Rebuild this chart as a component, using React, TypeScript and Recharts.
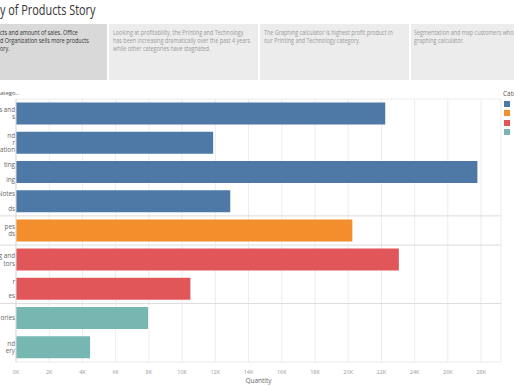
import React from "react";
import {
  Bar,
  BarChart,
  CartesianGrid,
  Cell,
  XAxis,
  YAxis,
} from "recharts";

const W = 514;
const H = 386;
const TOP = 99;
const RIGHT = 13;
const X_AXIS_H = 24;
const Y_AXIS_W = 16;

// row labels as visible (the left of the pane is cut off)
const subCategories = [
  "s and\ns",
  "nd\nr\nzation",
  "ting\n\ning",
  "Notes\n\nds",
  "pes\nds",
  "ng and\ntors",
  "r\n\nes",
  "ories",
  "nd\nery",
];
const quantities = [22230, 11870, 27780, 12900, 20250, 23050, 10500, 7950, 4460];
const groupOf = [0, 0, 0, 0, 1, 2, 2, 3, 3];
const groupColors = ["#4e79a7", "#f28e2b", "#e15759", "#76b7b2"];
const xTicks = [0, 2000, 4000, 6000, 8000, 10000, 12000, 14000, 16000, 18000, 20000, 22000, 24000, 26000, 28000];

const title = "y of Products Story";
const storyPoints = [
  ["cts and amount of sales. Office", "d Organization sells more products", "ory."],
  [
    "Looking at profitability, the Printing and Technology",
    "has been increasing dramatically over the past 4 years",
    "while other categories have stagnated.",
  ],
  ["The Graphing calculator is highest profit product in", "our Printing and Technology category."],
  ["Segmentation and map customers who", "graphing calculator."],
];

const rows = subCategories.map((name, i) => ({
  name,
  quantity: quantities[i],
  group: groupOf[i],
}));

const plotH = H - TOP - X_AXIS_H;
const band = plotH / rows.length;
const plotRight = W - RIGHT;
const font = "'Open Sans', 'DejaVu Sans', sans-serif";

function CategoryTick(props: any) {
  const { y, payload } = props;
  const i = subCategories.indexOf(payload.value);
  const lines = String(payload.value).split("\n");
  const lh = 7.3;
  const y0 = y - ((lines.length - 1) * lh) / 2;
  const groupStart = i > 0 && groupOf[i] !== groupOf[i - 1];
  return (
    <g>
      {groupStart && (
        <line x1={0} x2={plotRight} y1={y - band / 2} y2={y - band / 2} stroke="#dcdcdc" />
      )}
      <text fontSize={6.3} fill="#666" fontFamily={font} textAnchor="end">
        {lines.map((l, k) => (
          <tspan key={k} x={15} y={y0 + k * lh} dy="0.35em">
            {l}
          </tspan>
        ))}
      </text>
    </g>
  );
}

const boxes = [
  { left: 0, width: 107, bg: "#d9d9d9", color: "#333", pad: 0 },
  { left: 109, width: 149, bg: "#ececec", color: "#9a9a9a", pad: 4 },
  { left: 260, width: 149, bg: "#ececec", color: "#9a9a9a", pad: 4 },
  { left: 411, width: 103, bg: "#ececec", color: "#9a9a9a", pad: 3 },
];

export default function App() {
  return (
    <div
      style={{
        position: "fixed",
        left: 0,
        top: 0,
        width: W,
        height: H,
        overflow: "hidden",
        background: "#fff",
        fontFamily: font,
      }}
    >
      <div style={{ position: "absolute", left: 0, top: 0 }}>
        <BarChart
          width={W}
          height={H}
          data={rows}
          layout="vertical"
          margin={{ top: TOP, right: RIGHT, bottom: 0, left: 0 }}
          barCategoryGap="12%"
        >
          <CartesianGrid
            horizontal={true}
            horizontalPoints={[TOP, TOP + plotH]}
            vertical={true}
            stroke="#ececec"
          />
          <XAxis
            type="number"
            dataKey="quantity"
            domain={[0, 29200]}
            ticks={xTicks}
            tickFormatter={(v) => `${v / 1000}K`}
            height={X_AXIS_H}
            axisLine={false}
            tickLine={false}
            tick={{ fontSize: 5.5, fill: "#9a9a9a", fontFamily: font }}
            interval={0}
          />
          <YAxis
            type="category"
            dataKey="name"
            width={Y_AXIS_W}
            interval={0}
            tickLine={false}
            axisLine={{ stroke: "#dcdcdc" }}
            tick={<CategoryTick />}
          />
          <Bar dataKey="quantity" isAnimationActive={false}>
            {rows.map((r, i) => (
              <Cell key={i} fill={groupColors[r.group]} />
            ))}
          </Bar>
        </BarChart>
      </div>

      <div
        style={{
          position: "absolute",
          left: 0,
          top: 0,
          fontSize: 14.5,
          color: "#333",
          whiteSpace: "nowrap",
          transform: "scaleX(0.75)",
          transformOrigin: "0 0",
        }}
      >
        {title}
      </div>

      {boxes.map((b, i) => (
        <div
          key={i}
          style={{
            position: "absolute",
            left: b.left,
            top: 24,
            width: b.width,
            height: 56,
            background: b.bg,
            overflow: "hidden",
          }}
        >
          <div
            style={{
              position: "absolute",
              left: b.pad,
              top: 5,
              fontSize: 6.8,
              lineHeight: "8px",
              color: b.color,
              whiteSpace: "nowrap",
              transform: "scaleX(0.8)",
              transformOrigin: "0 0",
            }}
          >
            {storyPoints[i].map((l, k) => (
              <div key={k}>{l}</div>
            ))}
          </div>
        </div>
      ))}

      <div style={{ position: "absolute", left: 0, top: 89, fontSize: 6, color: "#555" }}>atego..</div>

      <div
        style={{
          position: "absolute",
          left: Y_AXIS_W + (plotRight - Y_AXIS_W) / 2 - 20,
          width: 40,
          textAlign: "center",
          top: 376,
          fontSize: 6.5,
          color: "#666",
        }}
      >
        Quantity
      </div>

      <div style={{ position: "absolute", left: 503, top: 89, fontSize: 6.5, color: "#555" }}>Cate</div>
      {groupColors.map((c, i) => (
        <div
          key={c}
          style={{
            position: "absolute",
            left: 504,
            top: 101 + i * 9.3,
            width: 6,
            height: 6,
            background: c,
          }}
        />
      ))}
    </div>
  );
}
